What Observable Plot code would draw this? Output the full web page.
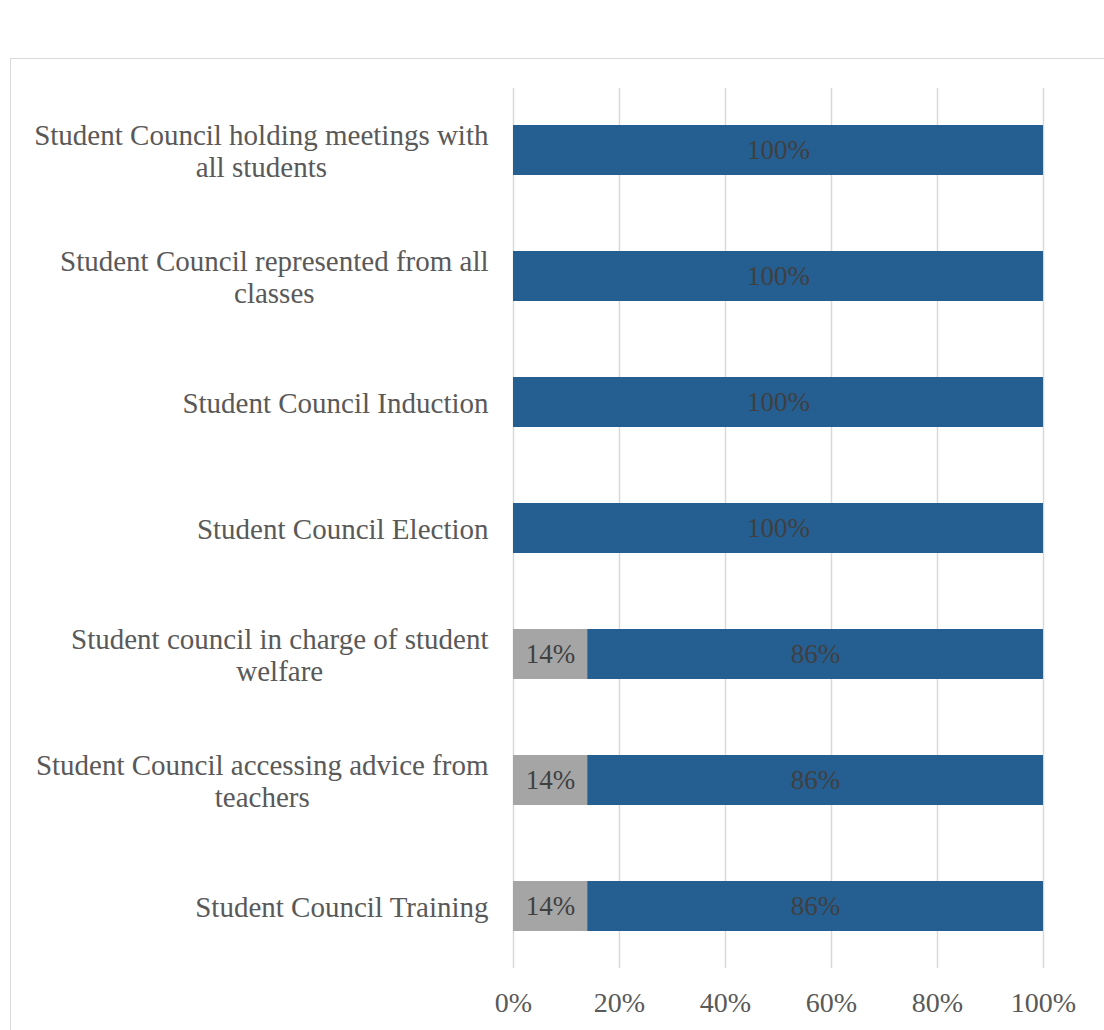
<!DOCTYPE html>
<html>
<head>
<meta charset="utf-8">
<script src="https://cdn.jsdelivr.net/npm/d3@7"></script>
<script src="https://cdn.jsdelivr.net/npm/@observablehq/plot@0.6"></script>
<style>
  html, body { margin: 0; padding: 0; background: #fff; }
  #wrap { position: relative; width: 1104px; height: 1030px; overflow: hidden; }
  #box { position: absolute; left: 10px; top: 58px; width: 1200px; height: 1100px; border: 1px solid #D9D9D9; box-sizing: border-box; }
  #chart { position: absolute; left: 0; top: 0; }
  #chart text { font-family: 'Liberation Serif', 'Times New Roman', serif; }
</style>
</head>
<body>
<div id="wrap"><div id="box"></div><div id="chart"></div></div>
<script>
const categories = [
  "Student Council holding meetings with all students",
  "Student Council represented from all classes",
  "Student Council Induction",
  "Student Council Election",
  "Student council in charge of student welfare",
  "Student Council accessing advice from teachers",
  "Student Council Training"
];
const categoryLabels = [
  "Student Council holding meetings with\nall students",
  "Student Council represented from all\nclasses",
  "Student Council Induction",
  "Student Council Election",
  "Student council in charge of student\nwelfare",
  "Student Council accessing advice from\nteachers",
  "Student Council Training"
];
const seriesNames = ["No", "Yes"];
const noValues = [0, 0, 0, 0, 14, 14, 14];
const yesValues = [100, 100, 100, 100, 86, 86, 86];
const xTicks = [0, 20, 40, 60, 80, 100];
const colors = ["#A5A5A5", "#255E91"];

const rows = categories.flatMap((c, i) => [
  {cat: c, series: seriesNames[0], value: noValues[i]},
  {cat: c, series: seriesNames[1], value: yesValues[i]}
]).filter(d => d.value > 0);

const labelOf = new Map(categories.map((c, i) => [c, categoryLabels[i]]));
const FONT = "'Liberation Serif', 'Times New Roman', serif";

const svg = Plot.plot({
  width: 1104,
  height: 1030,
  marginTop: 88,
  marginBottom: 62,
  marginLeft: 513,
  marginRight: 61,
  style: {fontFamily: FONT, fontSize: "28px", background: "transparent"},
  x: {domain: [0, 100]},
  y: {domain: categories, paddingInner: 0.6, paddingOuter: 0.29},
  color: {domain: seriesNames, range: colors},
  marks: [
    Plot.gridX(xTicks, {stroke: "#D9D9D9", strokeOpacity: 1, strokeWidth: 1.5}),
    Plot.barX(rows, Plot.stackX({x: "value", y: "cat", fill: "series"})),
    Plot.text(rows, Plot.stackX({x: "value", y: "cat", z: "series", text: d => d.value + "%", fill: "#404040", fontSize: 27, fontFamily: FONT})),
    Plot.axisX(xTicks, {tickSize: 0, tickPadding: 24, tickFormat: d => d + "%", fill: "#595959", fontSize: 28, fontFamily: FONT, label: null}),
    Plot.axisY({tickSize: 0, tickPadding: 25, tickFormat: d => labelOf.get(d), fill: "#595959", fontSize: 29, fontFamily: FONT, lineHeight: 1.1, label: null})
  ]
});
document.getElementById("chart").appendChild(svg);

// center wrapped label lines against each other, keeping block right-aligned
svg.querySelectorAll("g[aria-label='y-axis tick label'] text").forEach(t => {
  const spans = t.querySelectorAll("tspan");
  if (spans.length < 2) return;
  let maxW = 0;
  spans.forEach(s => { maxW = Math.max(maxW, s.getComputedTextLength()); });
  spans.forEach(s => {
    const base = parseFloat(s.getAttribute("x") || t.getAttribute("x") || 0);
    s.setAttribute("x", base - maxW / 2);
    s.setAttribute("text-anchor", "middle");
  });
});
</script>
</body>
</html>
